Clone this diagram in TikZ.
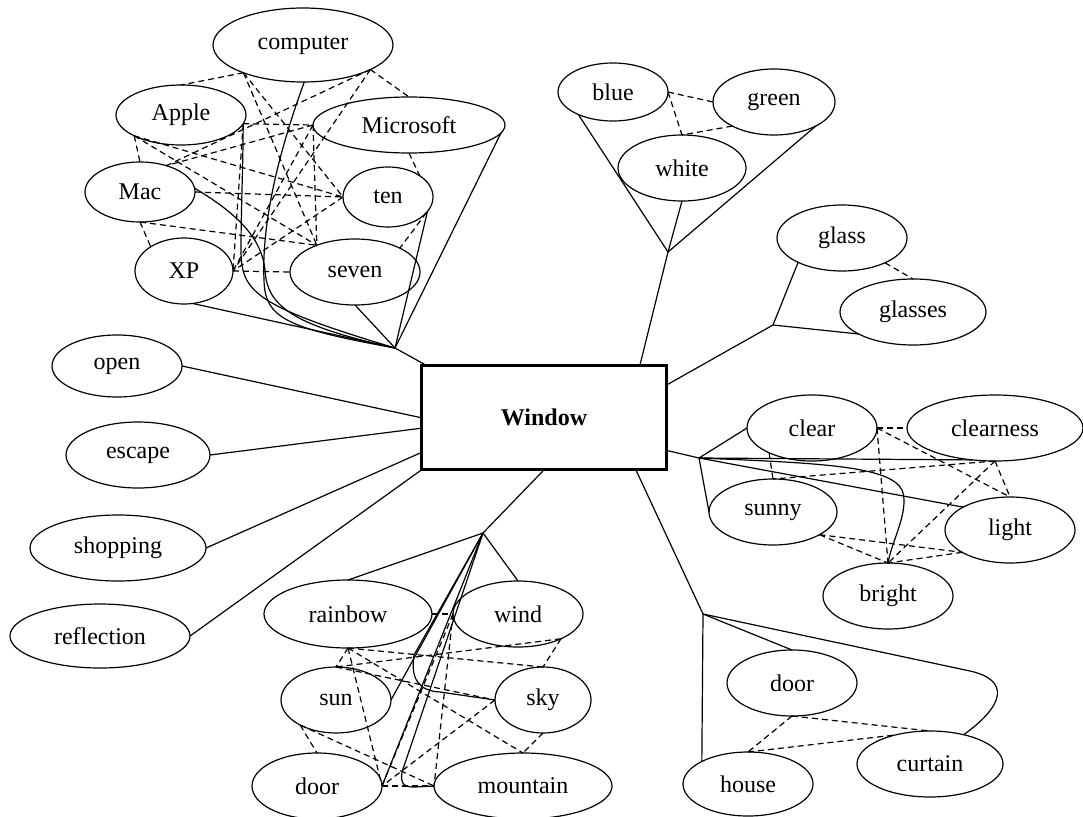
\documentclass[tikz,border=0pt]{standalone}
\usepackage{fontspec}
\setmainfont{Liberation Serif}
\usetikzlibrary{shapes.geometric}
\begin{document}
\begin{tikzpicture}[x=1pt,y=-1pt,
  concept/.style={draw, ellipse, line width=1.2pt, inner sep=0pt, outer sep=0pt,
    font=\fontsize{24}{28}\selectfont},
  hubbox/.style={draw, rectangle, line width=2.6pt, inner sep=0pt,
    font=\fontsize{24}{28}\selectfont\bfseries},
  link/.style={line width=1.2pt},
  assoc/.style={line width=1.2pt, dash pattern=on 6pt off 4pt}]
\useasboundingbox (0,0) rectangle (1083,816);

% central concept
\node[hubbox, minimum width=245pt, minimum height=104pt] (win) at (544,417.5) {Window};

% computing cluster
\node[concept, minimum width=180pt, minimum height=74pt] (computer) at (303,45) {computer};
\node[concept, minimum width=130pt, minimum height=60pt] (Apple) at (181,115) {Apple};
\node[concept, minimum width=192pt, minimum height=56pt] (Microsoft) at (409,125) {Microsoft};
\node[concept, minimum width=110pt, minimum height=60pt] (Mac) at (140,192) {Mac};
\node[concept, minimum width=90pt, minimum height=60pt] (ten) at (388,197) {ten};
\node[concept, minimum width=98pt, minimum height=66pt] (XP) at (184,271) {XP};
\node[concept, minimum width=130pt, minimum height=66pt] (seven) at (355,272) {seven};

% single concepts on the left
\node[concept, minimum width=130pt, minimum height=62pt] (open) at (117,366) {open};
\node[concept, minimum width=144pt, minimum height=66pt] (escape) at (138,455) {escape};
\node[concept, minimum width=176pt, minimum height=66pt] (shopping) at (118,548) {shopping};
\node[concept, minimum width=180pt, minimum height=64pt] (reflection) at (100,636) {reflection};

% colours
\node[concept, minimum width=110pt, minimum height=58pt] (blue) at (613,92) {blue};
\node[concept, minimum width=122pt, minimum height=66pt] (green) at (774,102) {green};
\node[concept, minimum width=128pt, minimum height=66pt] (white) at (682,168) {white};

% glass
\node[concept, minimum width=130pt, minimum height=66pt] (glass) at (842,238) {glass};
\node[concept, minimum width=146pt, minimum height=66pt] (glasses) at (913,312) {glasses};

% brightness
\node[concept, minimum width=130pt, minimum height=66pt] (clear) at (812,428) {clear};
\node[concept, minimum width=176pt, minimum height=66pt] (clearness) at (995,428) {clearness};
\node[concept, minimum width=128pt, minimum height=66pt] (sunny) at (773,512) {sunny};
\node[concept, minimum width=130pt, minimum height=66pt] (light) at (1010,530) {light};
\node[concept, minimum width=130pt, minimum height=66pt] (bright) at (888,596) {bright};

% outside view
\node[concept, minimum width=168pt, minimum height=68pt] (rainbow) at (348,614) {rainbow};
\node[concept, minimum width=130pt, minimum height=66pt] (wind) at (518,614) {wind};
\node[concept, minimum width=110pt, minimum height=66pt] (sun) at (336,700) {sun};
\node[concept, minimum width=96pt, minimum height=66pt] (sky) at (543,700) {sky};
\node[concept, minimum width=130pt, minimum height=66pt] (door) at (317,786) {door};
\node[concept, minimum width=178pt, minimum height=66pt] (mountain) at (523,786) {mountain};

% house parts
\node[concept, minimum width=130pt, minimum height=66pt] (doorB) at (792,683) {door};
\node[concept, minimum width=130pt, minimum height=64pt] (house) at (748,784) {house};
\node[concept, minimum width=146pt, minimum height=66pt] (curtain) at (930,764) {curtain};

% branch points
\coordinate (J1) at (395,348);
\coordinate (J2) at (668,252);
\coordinate (J3) at (773,325);
\coordinate (J4) at (699,458);
\coordinate (J5) at (483,533);
\coordinate (J6) at (703,614);

% ---- solid links ----
\draw[link] (J1) -- (win.156);
\draw[link] (J1) -- (XP.285);
\draw[link] (J1) -- (seven.south);
\draw[link] (J1) -- (ten.340);
\draw[link] (J1) -- (Microsoft.355);
\draw[link] (computer.272) .. controls (272,170) and (262,235) .. (264,280)
  .. controls (265,318) and (285,328) .. (J1);
\draw[link] (Apple.352) .. controls (243,170) and (241,210) .. (241,250)
  .. controls (241,292) and (255,306) .. (J1);
\draw[link] (Mac.4) .. controls (240,215) and (262,240) .. (265,270)
  .. controls (267,305) and (290,325) .. (J1);

\draw[link] (J2) -- (win.29);
\draw[link] (J2) -- (blue.213);
\draw[link] (J2) -- (green.330);
\draw[link] (J2) -- (white.south);

\draw[link] (win.15) -- (J3);
\draw[link] (J3) -- (glass.209);
\draw[link] (J3) -- (glasses.202);

\draw[link] (win.345) -- (J4);
\draw[link] (J4) -- (clear.west);
\draw[link] (J4) -- (sunny.west);
\draw[link] (J4) -- (clearness.235);
\draw[link] (J4) -- (light.154);
\draw[link] (J4) .. controls (820,463) and (890,466) .. (902,490)
  .. controls (910,510) and (892,540) .. (bright.north);

\draw[link] (win.269) -- (J5);
\draw[link] (J5) -- (rainbow.north);
\draw[link] (J5) -- (wind.north);
\draw[link] (J5) -- (sun.east);
\draw[link] (J5) -- (door.east);
\draw[link] (J5) -- (414,655) .. controls (410,680) and (420,691) .. (440,692) -- (sky.west);
\draw[link] (J5) -- (402,772) .. controls (400,785) and (405,787) .. (415,787) -- (mountain.west);

\draw[link] (win.330) -- (J6);
\draw[link] (J6) -- (house.154);
\draw[link] (J6) -- (doorB.north);
\draw[link] (J6) -- (970,671) .. controls (1010,680) and (1005,705) .. (curtain.41);

\draw[link] (open.east) -- (win.west);
\draw[link] (escape.east) -- (win.185);
\draw[link] (shopping.east) -- (win.196);
\draw[link] (reflection.east) -- (win.south west);

% ---- dashed associations ----
% computing cluster
\draw[assoc] (computer.205) -- (Apple.north);
\draw[assoc] (computer.340) -- (Microsoft.north);
\draw[assoc] (computer.340) -- (Mac.45);
\draw[assoc] (computer.205) -- (ten.west);
\draw[assoc] (computer.340) -- (XP.east);
\draw[assoc] (computer.205) -- (seven.145);
\draw[assoc] (Apple.352) -- (Microsoft.west);
\draw[assoc] (Apple.204) -- (Mac.north);
\draw[assoc] (Apple.204) -- (ten.west);
\draw[assoc] (Apple.352) -- (XP.east);
\draw[assoc] (Apple.204) -- (seven.145);
\draw[assoc] (Microsoft.west) -- (Mac.45);
\draw[assoc] (Microsoft.south) -- (ten.34);
\draw[assoc] (Microsoft.west) -- (XP.east);
\draw[assoc] (Microsoft.west) -- (seven.145);
\draw[assoc] (Mac.east) -- (ten.west);
\draw[assoc] (Mac.south) -- (XP.144);
\draw[assoc] (Mac.south) -- (seven.145);
\draw[assoc] (ten.west) -- (XP.east);
\draw[assoc] (ten.338) -- (seven.28);
\draw[assoc] (XP.east) -- (seven.west);

% colours
\draw[assoc] (blue.east) -- (green.west);
\draw[assoc] (blue.east) -- (white.north);
\draw[assoc] (green.210) -- (white.north);

% glass
\draw[assoc] (glass.330) -- (glasses.north);

% brightness
\draw[assoc] (clear.east) -- (clearness.west);
\draw[assoc] (clear.east) -- (light.north);
\draw[assoc] (clear.east) -- (bright.north);
\draw[assoc] (clear.210) -- (sunny.north);
\draw[assoc] (clearness.south) -- (sunny.north);
\draw[assoc] (clearness.south) -- (light.north);
\draw[assoc] (clearness.south) -- (bright.north);
\draw[assoc] (sunny.334) -- (bright.north);
\draw[assoc] (sunny.334) -- (light.205);
\draw[assoc] (light.205) -- (bright.north);

% outside view
\draw[assoc] (rainbow.east) -- (wind.west);
\draw[assoc] (rainbow.south) -- (sun.north);
\draw[assoc] (rainbow.south) -- (sky.north);
\draw[assoc] (rainbow.south) -- (door.east);
\draw[assoc] (rainbow.south) -- (mountain.north);
\draw[assoc] (wind.330) -- (sun.north);
\draw[assoc] (wind.330) -- (sky.north);
\draw[assoc] (wind.west) -- (door.east);
\draw[assoc] (wind.west) -- (mountain.west);
\draw[assoc] (sun.north) -- (sky.west);
\draw[assoc] (sun.215) -- (door.north);
\draw[assoc] (sun.215) -- (mountain.west);
\draw[assoc] (sky.west) -- (door.east);
\draw[assoc] (sky.south) -- (mountain.north);
\draw[assoc] (door.east) -- (mountain.west);

% house parts
\draw[assoc] (doorB.south) -- (house.north);
\draw[assoc] (doorB.south) -- (curtain.north);
\draw[assoc] (house.north) -- (curtain.140);
\end{tikzpicture}
\end{document}
